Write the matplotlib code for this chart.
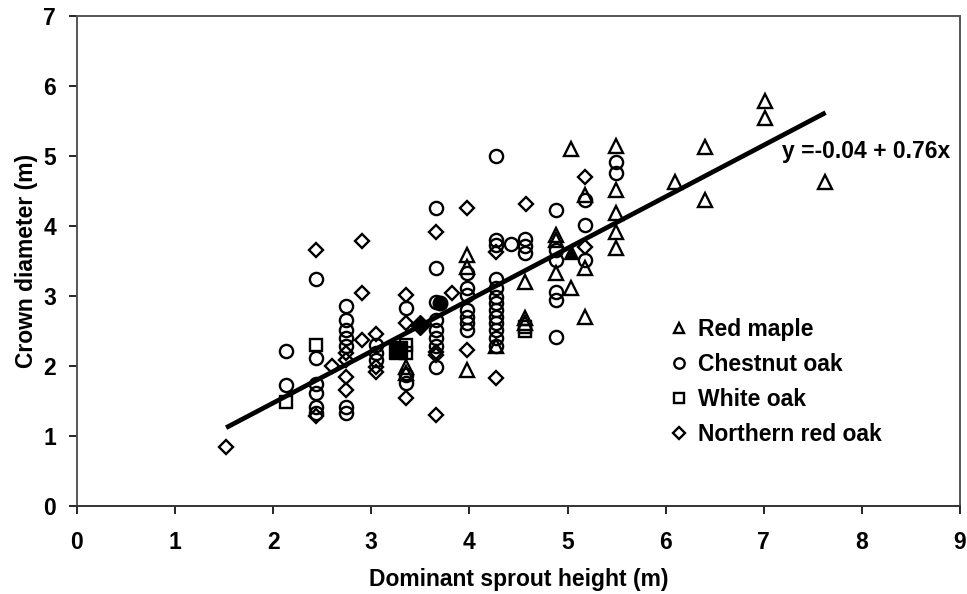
import matplotlib
matplotlib.use("Agg")
import matplotlib.pyplot as plt

plt.rcParams['font.family'] = ['Liberation Sans', 'DejaVu Sans']
plt.rcParams['font.weight'] = 'bold'

# Red maple (triangles)
rm_x = [3.35, 3.35, 3.97, 3.97, 3.97, 4.27, 4.57, 4.57, 4.57, 4.88, 4.88, 4.88,
        5.03, 5.03, 5.18, 5.18, 5.18, 5.49, 5.49, 5.49, 5.49, 5.49,
        6.10, 6.40, 6.40, 7.01, 7.01, 7.62]
rm_y = [1.99, 1.90, 3.59, 3.42, 1.94, 2.28, 3.20, 2.68, 2.62, 3.87, 3.80, 3.33,
        5.10, 3.12, 4.45, 3.40, 2.70, 5.14, 4.52, 4.18, 3.92, 3.68,
        4.63, 5.13, 4.37, 5.78, 5.55, 4.63]

# Chestnut oak (circles)
co_x = [2.13, 2.13,
        2.44, 2.44, 2.44, 2.44, 2.44, 2.44,
        2.74, 2.74, 2.74, 2.74, 2.74, 2.74, 2.74,
        3.05, 3.05, 3.05,
        3.35, 3.35, 3.35,
        3.66, 3.66, 3.66, 3.66, 3.66, 3.66, 3.66, 3.66,
        3.97, 3.97, 3.97, 3.97, 3.97, 3.97, 3.97,
        4.27, 4.27, 4.27, 4.27, 4.27, 4.27, 4.27, 4.27, 4.27, 4.27, 4.27, 4.27, 4.27,
        4.42, 4.57, 4.57, 4.57,
        4.88, 4.88, 4.88, 4.88, 4.88, 4.88,
        5.18, 5.18, 5.18, 5.49, 5.49]
co_y = [2.21, 1.73,
        3.24, 2.11, 1.75, 1.61, 1.41, 1.33,
        2.86, 2.66, 2.51, 2.40, 2.28, 1.41, 1.33,
        2.30, 2.18, 2.09,
        2.83, 1.87, 1.76,
        4.26, 3.40, 2.92, 2.66, 2.51, 2.40, 2.28, 1.99,
        3.33, 3.11, 3.01, 2.80, 2.70, 2.61, 2.51,
        5.00, 3.80, 3.73, 3.25, 3.11, 2.99, 2.90, 2.80, 2.70, 2.61, 2.51, 2.40, 2.28,
        3.74, 3.81, 3.71, 3.61,
        4.23, 3.66, 3.51, 3.06, 2.94, 2.42,
        4.37, 4.01, 3.51, 4.92, 4.76]

# White oak (squares)
wo_x = [2.13, 2.44, 3.35, 3.35, 4.57, 4.57]
wo_y = [1.49, 2.30, 2.30, 2.18, 2.50, 2.56]

# Northern red oak (diamonds)
nro_x = [1.52, 2.44, 2.44, 2.60, 2.74, 2.74, 2.74, 2.74, 2.90, 2.90, 2.90,
         3.05, 3.05, 3.05, 3.35, 3.35, 3.35, 3.66, 3.66, 3.66, 3.66, 3.82,
         3.97, 3.97, 4.27, 4.27, 4.58, 5.18, 5.18]
nro_y = [0.84, 3.66, 1.28, 2.00, 2.18, 2.09, 1.85, 1.66, 3.78, 3.05, 2.37,
         2.46, 1.99, 1.92, 3.02, 2.61, 1.54, 3.92, 2.20, 2.16, 1.30, 3.05,
         4.26, 2.23, 3.63, 1.83, 4.31, 4.70, 3.70]

# Species means (filled markers)
mean_x = [5.03, 3.70, 3.27, 3.50]
mean_y = [3.63, 2.90, 2.23, 2.58]
mean_markers = ['^', 'o', 's', 'D']

# Regression line as drawn
line_x = [1.52, 7.63]
line_y = [1.12, 5.62]
equation = "y =-0.04 + 0.76x"

species = ["Red maple", "Chestnut oak", "White oak", "Northern red oak"]

FS = 16.5

fig = plt.figure(figsize=(9.67, 5.94), dpi=100)
ax = fig.add_axes([0.0796, 0.148, 0.9132, 0.825])

kw = dict(linestyle='none', markerfacecolor='none', markeredgecolor='black',
          markeredgewidth=1.7)
ax.plot(rm_x, rm_y, marker='^', markersize=9.5, **kw)
ax.plot(co_x, co_y, marker='o', markersize=9.5, **kw)
ax.plot(wo_x, wo_y, marker='s', markersize=9, **kw)
ax.plot(nro_x, nro_y, marker='D', markersize=7, **kw)

for mx, my, mm in zip(mean_x, mean_y, mean_markers):
    ax.plot([mx], [my], marker=mm, markersize=13 if mm == 's' else 10.5,
            color='black', linestyle='none')

ax.plot(line_x, line_y, color='black', linewidth=3.4, solid_capstyle='butt')

ax.text(7.19, 5.06, equation, fontsize=FS, fontweight='bold', va='center', ha='left')

ax.set_xlim(0, 9)
ax.set_ylim(0, 7)
ax.set_xticks(range(0, 10))
ax.set_yticks(range(0, 8))
ax.tick_params(axis='x', direction='out', length=6, width=1.2, pad=12,
               labelsize=FS, colors='black')
ax.tick_params(axis='y', direction='out', length=6, width=1.2, pad=9,
               labelsize=FS, colors='black')
for lab in ax.get_xticklabels() + ax.get_yticklabels():
    lab.set_fontweight('bold')
for s in ax.spines.values():
    s.set_color('#555555')
    s.set_linewidth(1.4)
ax.spines['bottom'].set_color('#333333')

ax.set_xlabel("Dominant sprout height (m)", fontsize=FS, fontweight='bold', labelpad=10)
ax.set_ylabel("Crown diameter (m)", fontsize=FS, fontweight='bold', labelpad=4)

leg_handles = []
for m, ms in zip(['^', 'o', 's', 'D'], [7.5, 7.5, 7.5, 6]):
    hh, = ax.plot([], [], marker=m, markersize=ms, **kw)
    leg_handles.append(hh)
leg = ax.legend(leg_handles, species, loc='upper left',
                bbox_to_anchor=(670 / 967, 1 - 318 / 594),
                bbox_transform=fig.transFigure, frameon=False,
                prop={'size': FS, 'weight': 'bold'},
                handlelength=0.8, handletextpad=0.4, labelspacing=0.52,
                borderaxespad=0, borderpad=0)

fig.savefig("out.png", dpi=100)
